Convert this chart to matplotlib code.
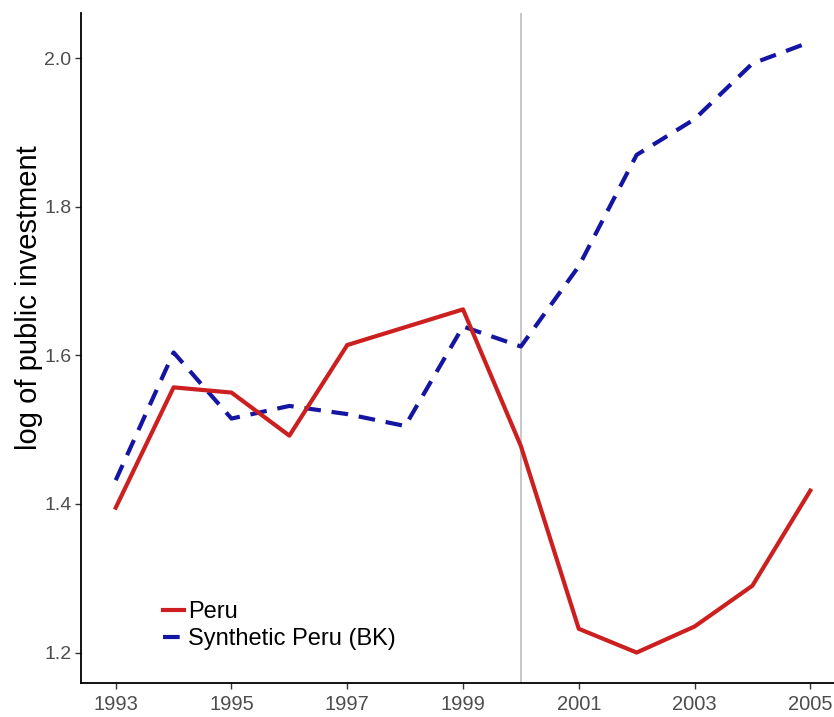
import matplotlib
matplotlib.use("Agg")
import matplotlib.pyplot as plt

# Datos
years = [1993, 1994, 1995, 1996, 1997, 1998, 1999, 2000, 2001, 2002, 2003, 2004, 2005]
peru = [1.395, 1.557, 1.550, 1.492, 1.614, 1.638, 1.662, 1.478, 1.232, 1.200, 1.235, 1.290, 1.418]
synthetic = [1.432, 1.604, 1.515, 1.532, 1.521, 1.505, 1.639, 1.612, 1.720, 1.870, 1.918, 1.993, 2.022]
x_ticks = [1993, 1995, 1997, 1999, 2001, 2003, 2005]
y_ticks = [1.2, 1.4, 1.6, 1.8, 2.0]
treatment_year = 2000

plt.rcParams["font.family"] = ["Liberation Sans", "DejaVu Sans"]

fig = plt.figure(figsize=(8.34, 7.17), dpi=100)
ax = fig.add_axes([81 / 834, 34 / 717, 764 / 834, 670 / 717])

ax.axvline(treatment_year, color="#bdbdbd", lw=1.2, zorder=1)
ax.plot(years, peru, color="#cc2020", lw=3, label="Peru", zorder=3)
ax.plot(years, synthetic, color="#1515a3", lw=3, ls=(0, (4.0, 2.6)),
        label="Synthetic Peru (BK)", zorder=2)

ax.set_xlim(1992.4, 2005.6)
ax.set_ylim(1.159, 2.061)
ax.set_xticks(x_ticks)
ax.set_yticks(y_ticks)
ax.set_yticklabels([f"{v:.1f}" for v in y_ticks])

for side in ["top", "right"]:
    ax.spines[side].set_visible(False)
for side in ["left", "bottom"]:
    ax.spines[side].set_linewidth(1.3)
    ax.spines[side].set_color("black")

ax.tick_params(axis="both", colors="#333333", labelcolor="#4d4d4d",
               length=4, width=1, labelsize=14.5, pad=5)
ax.tick_params(axis="y", labelsize=14, pad=3)

ax.set_ylabel("log of public investment", fontsize=21)
ax.yaxis.set_label_coords(-0.05, 0.575)

leg = ax.legend(loc="lower left", bbox_to_anchor=(0.095, 0.035), frameon=False,
                prop={"size": 17}, handlelength=0.9,
                handletextpad=0.15, labelspacing=0.2, borderaxespad=0)

fig.savefig("out.png", dpi=100)
